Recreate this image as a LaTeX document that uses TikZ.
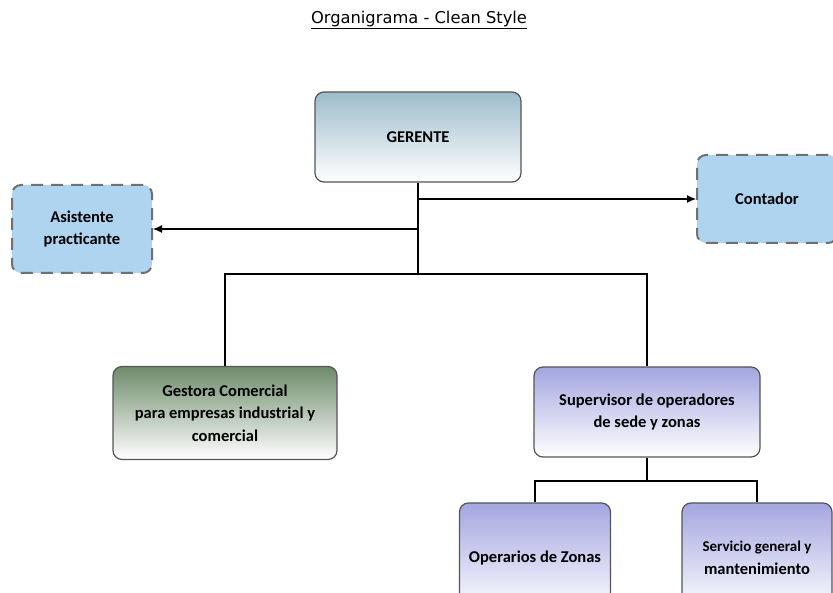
\documentclass[tikz,border=0pt]{standalone}
\usepackage{fontspec}
\setmainfont{Carlito}
\newfontfamily\titlefont{DejaVu Sans}
\usepackage{tikz}
\usetikzlibrary{arrows.meta}
\definecolor{gerTop}{HTML}{9DBCCC}
\definecolor{staffFill}{HTML}{AED4F0}
\definecolor{gestTop}{HTML}{6E8B6B}
\definecolor{supTop}{HTML}{A3A6E0}
\definecolor{frame}{HTML}{555555}
\definecolor{dashGray}{HTML}{707070}
\tikzstyle{caja}=[rounded corners=9pt,align=center,inner sep=2pt,
                  font=\bfseries\fontsize{16.5}{22.5}\selectfont]
\tikzstyle{puesto}=[caja,draw=frame,line width=1.2pt,bottom color=white]
\tikzstyle{apoyo}=[caja,fill=staffFill,draw=dashGray,line width=2pt,
                  dash pattern=on 12pt off 8pt]
\tikzstyle{linea}=[line width=1.2pt]

\begin{document}
\begin{tikzpicture}[x=1pt,y=-1pt]
      \clip (0,0) rectangle (833,593);
      % Title
      \node[font=\titlefont\fontsize{16.3}{18}\selectfont] (titulo) at (419,20) {\underline{Organigrama - Clean Style}};
      %
      % Place the boxes
      \node[puesto, top color=gerTop, minimum width=206, minimum height=90] (ger) at (418,137) {GERENTE};
      \node[apoyo, minimum width=140, minimum height=88] (asis) at (82,229) {Asistente\\practicante};
      \node[apoyo, minimum width=140, minimum height=88] (cont) at (767,199) {Contador};
      \node[puesto, top color=gestTop, minimum width=224, minimum height=93] (gest) at (225,413) {Gestora Comercial\\para empresas industrial y\\comercial};
      \node[puesto, top color=supTop, minimum width=226, minimum height=90] (sup) at (647,412) {Supervisor de operadores\\de sede y zonas};
      \node[puesto, top color=supTop, minimum width=151, minimum height=110] (oper) at (535,558) {Operarios de Zonas};
      \node[puesto, top color=supTop, minimum width=150, minimum height=110] (serv) at (757,558) {\fontsize{15}{21}\selectfont Servicio general y\\mantenimiento};
      %
      % Junctions
      \coordinate (fork) at (418,274);
      \coordinate (fork2) at (647,481);
      %
      % Connect them
      \draw[linea] (ger.south) -- (fork);
      \draw[linea, -{Latex[length=9pt,width=8pt]}] (ger.south |- cont.west) -- (cont.west);
      \draw[linea, -{Latex[length=9pt,width=8pt]}] (ger.south |- asis.east) -- (asis.east);
      \foreach \dest in {gest, sup}
        \draw[linea] (fork) -| (\dest.north);
      \draw[linea] (sup.south) -- (fork2);
      \foreach \dest in {oper, serv}
        \draw[linea] (fork2) -| (\dest.north);
\end{tikzpicture}
\end{document}
